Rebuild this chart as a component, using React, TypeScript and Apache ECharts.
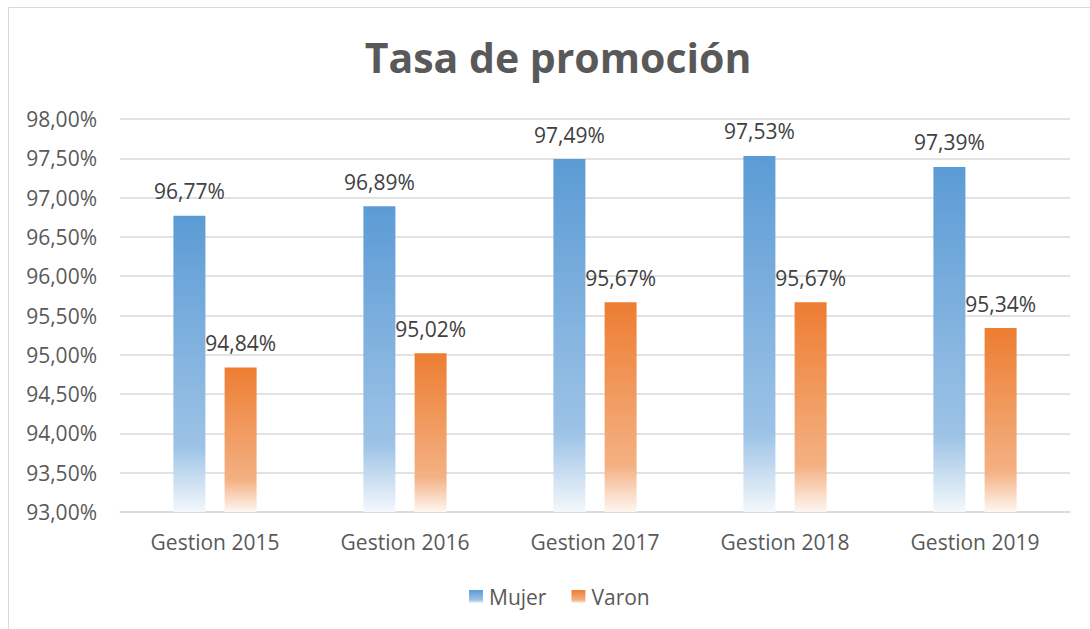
import React, { useEffect, useRef } from "react";
import * as echarts from "echarts";

const categories = ["Gestion 2015", "Gestion 2016", "Gestion 2017", "Gestion 2018", "Gestion 2019"];
const mujer = [96.77, 96.89, 97.49, 97.53, 97.39];
const varon = [94.84, 95.02, 95.67, 95.67, 95.34];
const seriesNames = ["Mujer", "Varon"];
const yMin = 93;
const yMax = 98;
const yStep = 0.5;

const fmt = (v: number) => v.toFixed(2).replace(".", ",") + "%";

const grad = (c0: string, c1: string, c2: string) =>
  new echarts.graphic.LinearGradient(0, 0, 0, 1, [
    { offset: 0, color: c0 },
    { offset: 0.78, color: c1 },
    { offset: 1, color: c2 },
  ]);

export default function App() {
  const ref = useRef<HTMLDivElement>(null);
  useEffect(() => {
    if (!ref.current) return;
    const chart = echarts.init(ref.current, undefined, { renderer: "svg" });
    const font = "'Open Sans', sans-serif";
    const label = {
      show: true,
      position: "top",
      distance: 14,
      fontFamily: font,
      fontSize: 21,
      color: "#404040",
      formatter: (p: any) => fmt(p.value),
    };
    chart.setOption({
      animation: false,
      backgroundColor: "#ffffff",
      title: {
        text: "Tasa de promoción",
        left: 553,
        textAlign: "center",
        top: 31,
        textStyle: { fontFamily: font, fontSize: 41, fontWeight: "bold", color: "#595959" },
      },
      graphic: [
        {
          type: "rect",
          shape: { x: 8.5, y: 7.5, width: 1100, height: 700 },
          style: { fill: "none", stroke: "#D9D9D9", lineWidth: 1 },
          silent: true,
        },
      ],
      legend: {
        data: seriesNames,
        left: 464,
        top: 581,
        itemWidth: 14,
        itemHeight: 13,
        itemGap: 25,
        icon: "rect",
        textStyle: { fontFamily: font, fontSize: 21, color: "#595959", padding: [0, 0, 0, 1] },
      },
      grid: { left: 120, right: 20, top: 119, bottom: 117 },
      xAxis: {
        type: "category",
        data: categories,
        axisTick: { show: false },
        axisLine: { lineStyle: { color: "#D9D9D9", width: 1.5 } },
        axisLabel: { fontFamily: font, fontSize: 21, color: "#595959", margin: 19 },
      },
      yAxis: {
        type: "value",
        min: yMin,
        max: yMax,
        interval: yStep,
        startValue: yMin,
        axisLine: { show: false },
        axisTick: { show: false },
        splitLine: { lineStyle: { color: "#D9D9D9", width: 1.5 } },
        axisLabel: { fontFamily: font, fontSize: 21, color: "#595959", margin: 23, formatter: fmt },
      },
      series: [
        {
          name: seriesNames[0],
          type: "bar",
          data: mujer,
          barWidth: 32,
          barGap: "60%",
          itemStyle: { color: grad("#5B9BD5", "#9DC3E6", "#F4F8FC") },
          label,
        },
        {
          name: seriesNames[1],
          type: "bar",
          data: varon,
          barWidth: 32,
          itemStyle: { color: grad("#ED7D31", "#F4B183", "#FEF6F1") },
          label,
        },
      ],
    });
    return () => chart.dispose();
  }, []);
  return (
    <div
      ref={ref}
      style={{ position: "absolute", left: 0, top: 0, width: 1090, height: 629 }}
    />
  );
}
